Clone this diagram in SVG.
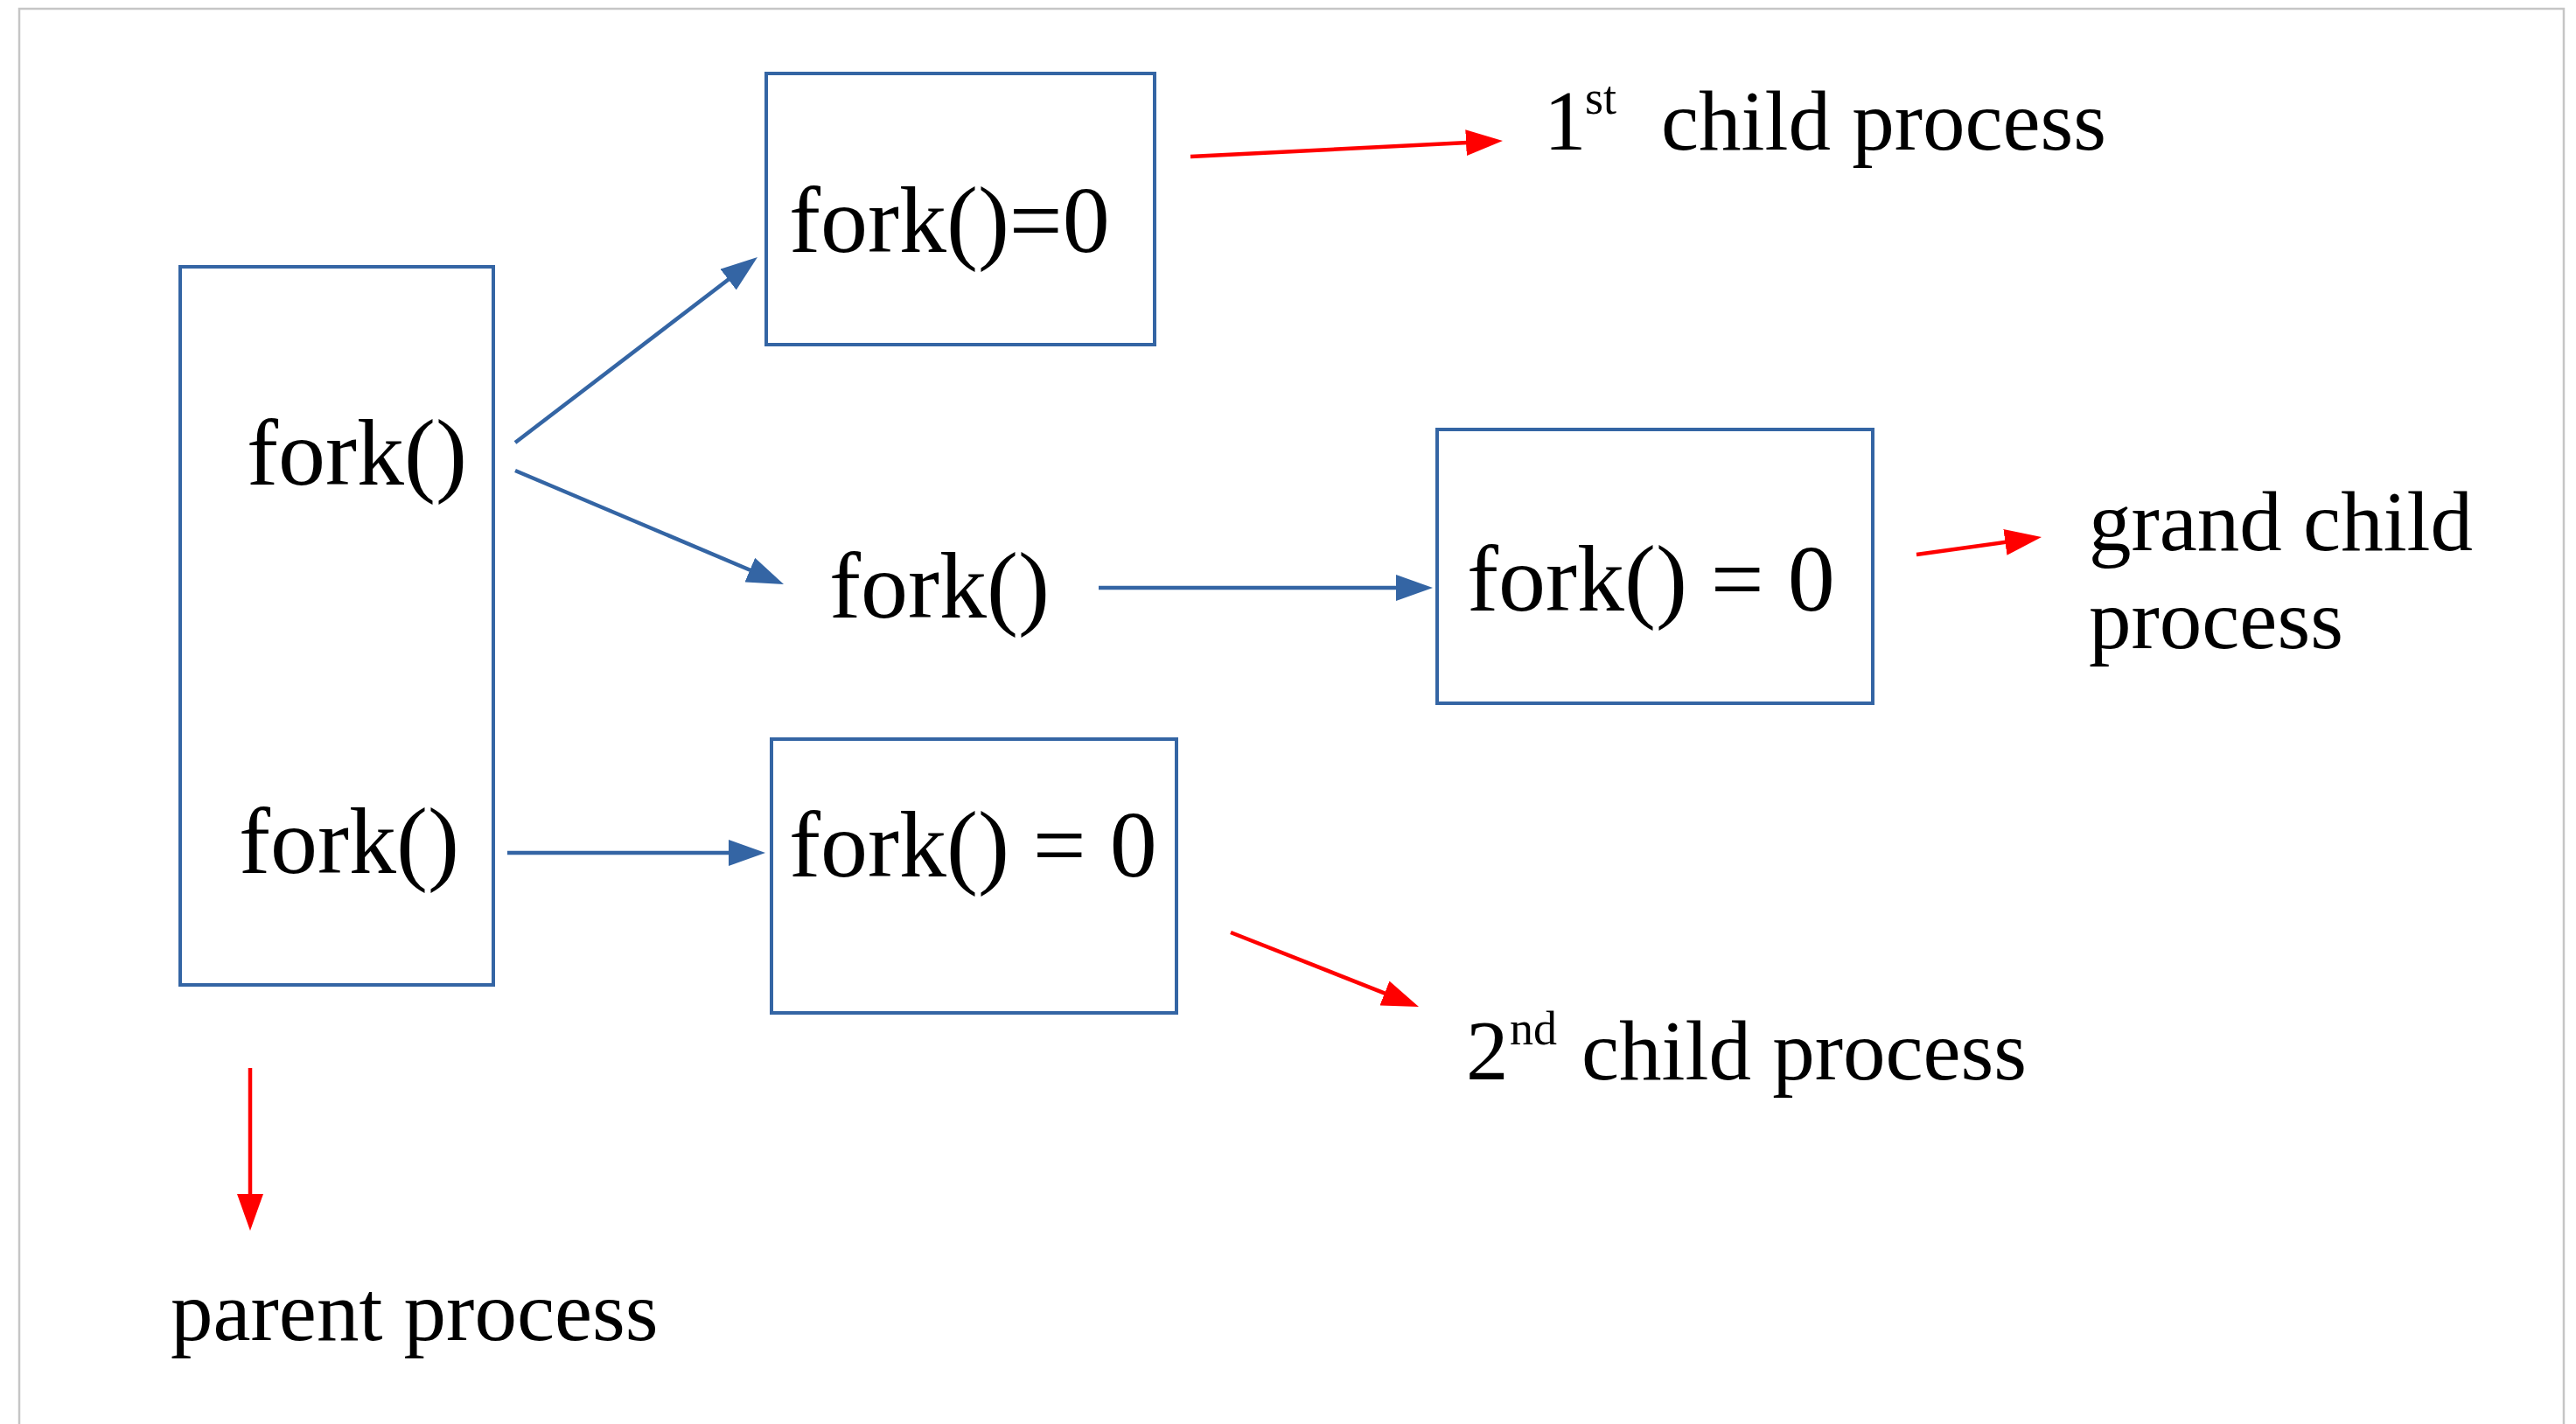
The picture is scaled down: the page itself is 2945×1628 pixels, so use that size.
<svg xmlns="http://www.w3.org/2000/svg" width="2945" height="1628" viewBox="0 0 2945 1628">
  <style>
    .box { fill: #ffffff; stroke: #3465a4; stroke-width: 4; }
    .code { font-family: "Liberation Serif", "Times New Roman", serif; font-size: 108px; fill: #000000; }
    .lbl { font-family: "Liberation Serif", "Times New Roman", serif; font-size: 97px; fill: #000000; }
    .sup { font-size: 54px; }
    .blue { stroke: #3465a4; stroke-width: 4.5; fill: none; marker-end: url(#headBlue); }
    .red { stroke: #ff0000; stroke-width: 4.5; fill: none; marker-end: url(#headRed); }
  </style>
  <defs>
    <marker id="headBlue" viewBox="0 0 42 30" refX="22" refY="15" markerWidth="42" markerHeight="30" markerUnits="userSpaceOnUse" orient="auto">
      <path d="M0,0 L42,15 L0,30 Z" fill="#3465a4"/>
    </marker>
    <marker id="headRed" viewBox="0 0 42 30" refX="22" refY="15" markerWidth="42" markerHeight="30" markerUnits="userSpaceOnUse" orient="auto">
      <path d="M0,0 L42,15 L0,30 Z" fill="#ff0000"/>
    </marker>
  </defs>
  <rect x="0" y="0" width="2945" height="1628" fill="#ffffff"/>
  <path d="M22,1628 V10 H2931 V1628" fill="none" stroke="#c6c6c6" stroke-width="2.5"/>

  <g id="parent">
    <rect class="box" x="206" y="305" width="358" height="821"/>
    <text class="code" x="282" y="554">fork()</text>
    <text class="code" x="273" y="998">fork()</text>
  </g>
  <g id="child1">
    <rect class="box" x="876" y="84" width="444" height="310"/>
    <text class="code" x="902" y="288">fork()=0</text>
  </g>
  <g id="child1-fork">
    <text class="code" x="948" y="706">fork()</text>
  </g>
  <g id="grandchild">
    <rect class="box" x="1643" y="491" width="498" height="313"/>
    <text class="code" x="1677" y="698">fork() = 0</text>
  </g>
  <g id="child2">
    <rect class="box" x="882" y="845" width="463" height="313"/>
    <text class="code" x="902" y="1002">fork() = 0</text>
  </g>
  <g id="label-child1">
    <text class="lbl"><tspan x="1765" y="171">1</tspan><tspan class="sup" x="1812" y="130">st</tspan><tspan x="1899" y="171">child process</tspan></text>
  </g>
  <g id="label-grandchild">
    <text class="lbl"><tspan x="2388" y="629">grand child</tspan><tspan x="2388" y="741">process</tspan></text>
  </g>
  <g id="label-child2">
    <text class="lbl"><tspan x="1676" y="1234">2</tspan><tspan class="sup" x="1726" y="1194">nd</tspan><tspan x="1808" y="1234">child process</tspan></text>
  </g>
  <g id="label-parent">
    <text class="lbl" x="195" y="1532">parent process</text>
  </g>

  <g id="connectors">
    <line class="blue" x1="589" y1="506" x2="850.1" y2="306.2"/>
    <line class="blue" x1="589" y1="538" x2="877.6" y2="660.2"/>
    <line class="blue" x1="1256" y1="672" x2="1618" y2="672"/>
    <line class="blue" x1="580" y1="975" x2="855" y2="975"/>
    <line class="red" x1="1361" y1="179" x2="1698" y2="162"/>
    <line class="red" x1="2191" y1="634" x2="2314.2" y2="616.8"/>
    <line class="red" x1="1407" y1="1066" x2="1603.4" y2="1143.6"/>
    <line class="red" x1="286" y1="1221" x2="286" y2="1387"/>
  </g>
</svg>
